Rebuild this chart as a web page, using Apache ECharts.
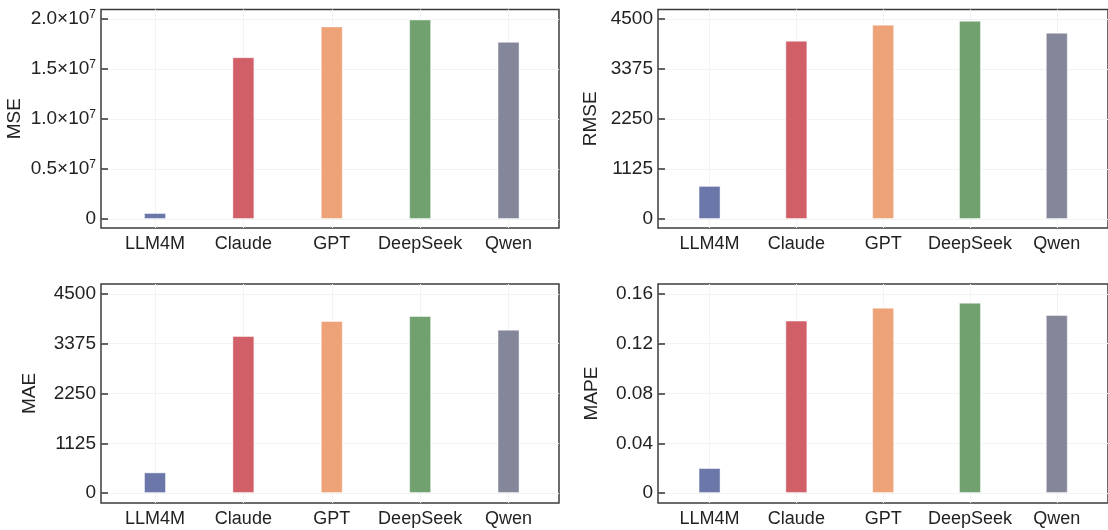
<!DOCTYPE html>
<html>
<head>
<meta charset="utf-8">
<script src="https://cdn.jsdelivr.net/npm/echarts@6/dist/echarts.min.js"></script>
<style>
html,body{margin:0;padding:0;background:#fff;}
#c{width:1108px;height:530px;}
</style>
</head>
<body>
<div id="c"></div>
<script>
// ---- data ----
const categories = ['LLM4M', 'Claude', 'GPT', 'DeepSeek', 'Qwen'];
const colors = ['#6a77a8', '#d15f67', '#eda277', '#70a16f', '#848699'];
const mseValues = [600000, 16180000, 19260000, 19950000, 17720000];
const rmseValues = [745, 4012, 4372, 4462, 4192];
const maeValues = [467, 3550, 3889, 4002, 3693];
const mapeValues = [0.0201, 0.1386, 0.1490, 0.1530, 0.1431];
const mseTicks = [0, 5000000, 10000000, 15000000, 20000000];
const errTicks = [0, 1125, 2250, 3375, 4500];
const mapeTicks = [0, 0.04, 0.08, 0.12, 0.16];
const catIndex = [0, 1, 2, 3, 4];

const FONT = '"Liberation Sans", Arial, Helvetica, sans-serif';

const panels = [
  {name: 'MSE', values: mseValues, ticks: mseTicks, grid: {left: 101, top: 9.5, width: 458, height: 218.5}, xr: [-0.611, 4.571], yr: [-0.045, 1.0475], gap: 77,
   fmt: v => v === 0 ? '0' : (v / 1e7).toFixed(1) + '×10{s|7}'},
  {name: 'RMSE', values: rmseValues, ticks: errTicks, grid: {left: 658, top: 9.5, width: 458, height: 218.5}, xr: [-0.594, 4.59], yr: [-0.045, 1.0475], gap: 58,
   fmt: v => String(v)},
  {name: 'MAE', values: maeValues, ticks: errTicks, grid: {left: 101, top: 284, width: 458, height: 219}, xr: [-0.611, 4.571], yr: [-0.05, 1.05], gap: 62,
   fmt: v => String(v)},
  {name: 'MAPE', values: mapeValues, ticks: mapeTicks, grid: {left: 658, top: 284, width: 458, height: 219}, xr: [-0.594, 4.59], yr: [-0.05, 1.05], gap: 57,
   fmt: v => v === 0 ? '0' : v.toFixed(2)}
];

const grids = [], xAxes = [], yAxes = [], series = [];
panels.forEach((p, i) => {
  const top = p.ticks[p.ticks.length - 1];
  grids.push(Object.assign({show: true, borderColor: '#3c3c3c', borderWidth: 1.5, backgroundColor: '#fff', containLabel: false}, p.grid));
  xAxes.push({
    type: 'value', gridIndex: i, min: p.xr[0], max: p.xr[1], position: 'bottom',
    axisLine: {show: false, onZero: false},
    axisTick: {show: false, customValues: catIndex},
    splitLine: {show: true, lineStyle: {color: '#f3f3f3', width: 1}},
    axisLabel: {customValues: catIndex, formatter: v => categories[v], fontSize: 18, color: '#222', fontFamily: FONT, margin: 7}
  });
  yAxes.push({
    type: 'value', gridIndex: i, min: p.yr[0] * top, max: p.yr[1] * top, position: 'left',
    name: p.name, nameLocation: 'middle', nameGap: p.gap,
    nameTextStyle: {fontSize: 19, color: '#222', fontFamily: FONT},
    axisLine: {show: false, onZero: false},
    axisTick: {show: true, inside: true, length: 7, customValues: p.ticks, lineStyle: {color: '#333', width: 1.5}},
    splitLine: {show: true, lineStyle: {color: '#f3f3f3', width: 1}},
    axisLabel: {customValues: p.ticks, formatter: p.fmt, fontSize: 19, color: '#222', fontFamily: FONT, margin: 5,
      rich: {s: {fontSize: 12, fontFamily: FONT, color: '#222', padding: [0, 0, 9, 0]}}}
  });
  series.push({
    type: 'bar', xAxisIndex: i, yAxisIndex: i, barWidth: 22, animation: false,
    data: p.values.map((v, k) => ({value: [catIndex[k], v], itemStyle: {color: colors[k]}})),
    itemStyle: {borderColor: 'rgba(255,255,255,0.45)', borderWidth: 1}
  });
});

const chart = echarts.init(document.getElementById('c'), null, {renderer: 'canvas'});
chart.setOption({
  animation: false,
  backgroundColor: '#fff',
  grid: grids, xAxis: xAxes, yAxis: yAxes, series: series
});
</script>
</body>
</html>
